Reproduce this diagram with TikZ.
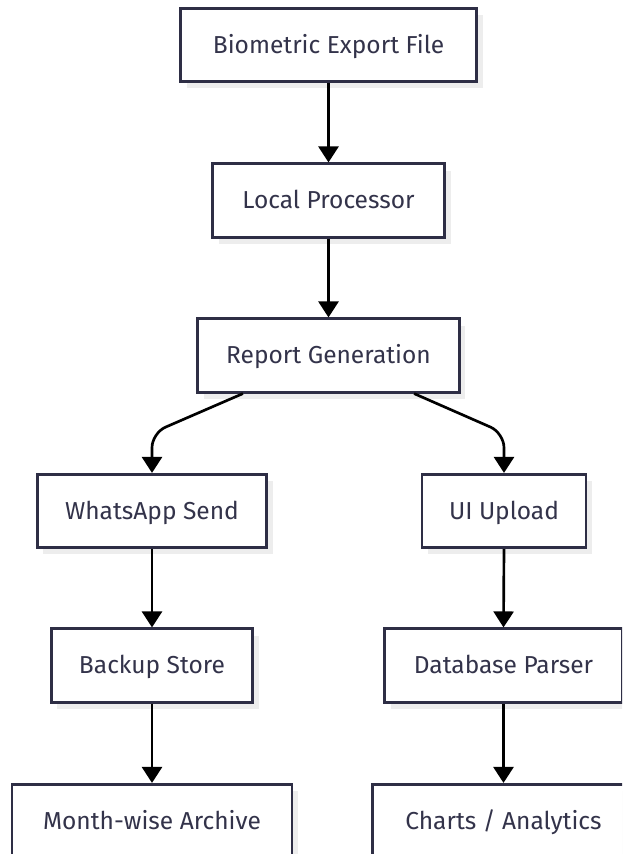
\documentclass[tikz,border=0pt]{standalone}
\usepackage{fontspec}
\setmainfont{Fira Sans}
\usetikzlibrary{arrows.meta,shadows,calc}
\definecolor{boxline}{HTML}{2E2E45}
\definecolor{boxtext}{HTML}{33334A}
\definecolor{shadowc}{HTML}{EDEDED}
\tikzset{
  box/.style={draw=boxline, line width=2.1pt, fill=white, rectangle,
    minimum height=55pt, inner sep=0pt, text=boxtext,
    text height=14pt, text depth=1.3pt,
    font=\fontsize{18.4pt}{21pt}\selectfont,
    drop shadow={shadow xshift=4.5pt, shadow yshift=-5pt, fill=shadowc, opacity=1, draw=none}},
  arr/.style={line width=2pt, draw=black, -{Triangle[width=15pt,length=12pt]}}
}
\begin{document}
\begin{tikzpicture}[x=0.75pt,y=-0.75pt]
\useasboundingbox (0,0) rectangle (622,854);
\clip (0,0) rectangle (622,854);
\node[box, minimum width=222pt] (bio) at (328.5,45) {Biometric Export File};
\node[box, minimum width=174pt] (local) at (328.5,200.5) {Local Processor};
\node[box, minimum width=196pt] (report) at (328.5,355.5) {Report Generation};
\node[box, minimum width=172pt] (whats) at (152,511) {WhatsApp Send};
\node[box, minimum width=123pt] (ui) at (504,511) {UI Upload};
\node[box, minimum width=151pt] (backup) at (152,665.5) {Backup Store};
\node[box, minimum width=178pt] (db) at (503.5,665.5) {Database Parser};
\node[box, minimum width=210pt] (month) at (152,821) {Month-wise Archive};
\node[box, minimum width=196pt] (charts) at (503.5,821) {Charts / Analytics};
\coordinate (lstart) at ($(report.south west)!0.176!(report.south east)$);
\coordinate (rstart) at ($(report.south west)!0.824!(report.south east)$);
\coordinate (lbend) at (152,433);
\coordinate (rbend) at (504,433);
\draw[arr] (bio.south) -- (local.north);
\draw[arr] (local.south) -- (report.north);
\draw[arr, rounded corners=11pt] (lstart) -- (lbend) -- (whats.north);
\draw[arr, rounded corners=11pt] (rstart) -- (rbend) -- (ui.north);
\draw[arr] (whats.south) -- (backup.north);
\draw[arr] (backup.south) -- (month.north);
\draw[arr] (ui.south) -- (db.south |- db.north);
\draw[arr] (db.south) -- (charts.north);
\end{tikzpicture}
\end{document}
